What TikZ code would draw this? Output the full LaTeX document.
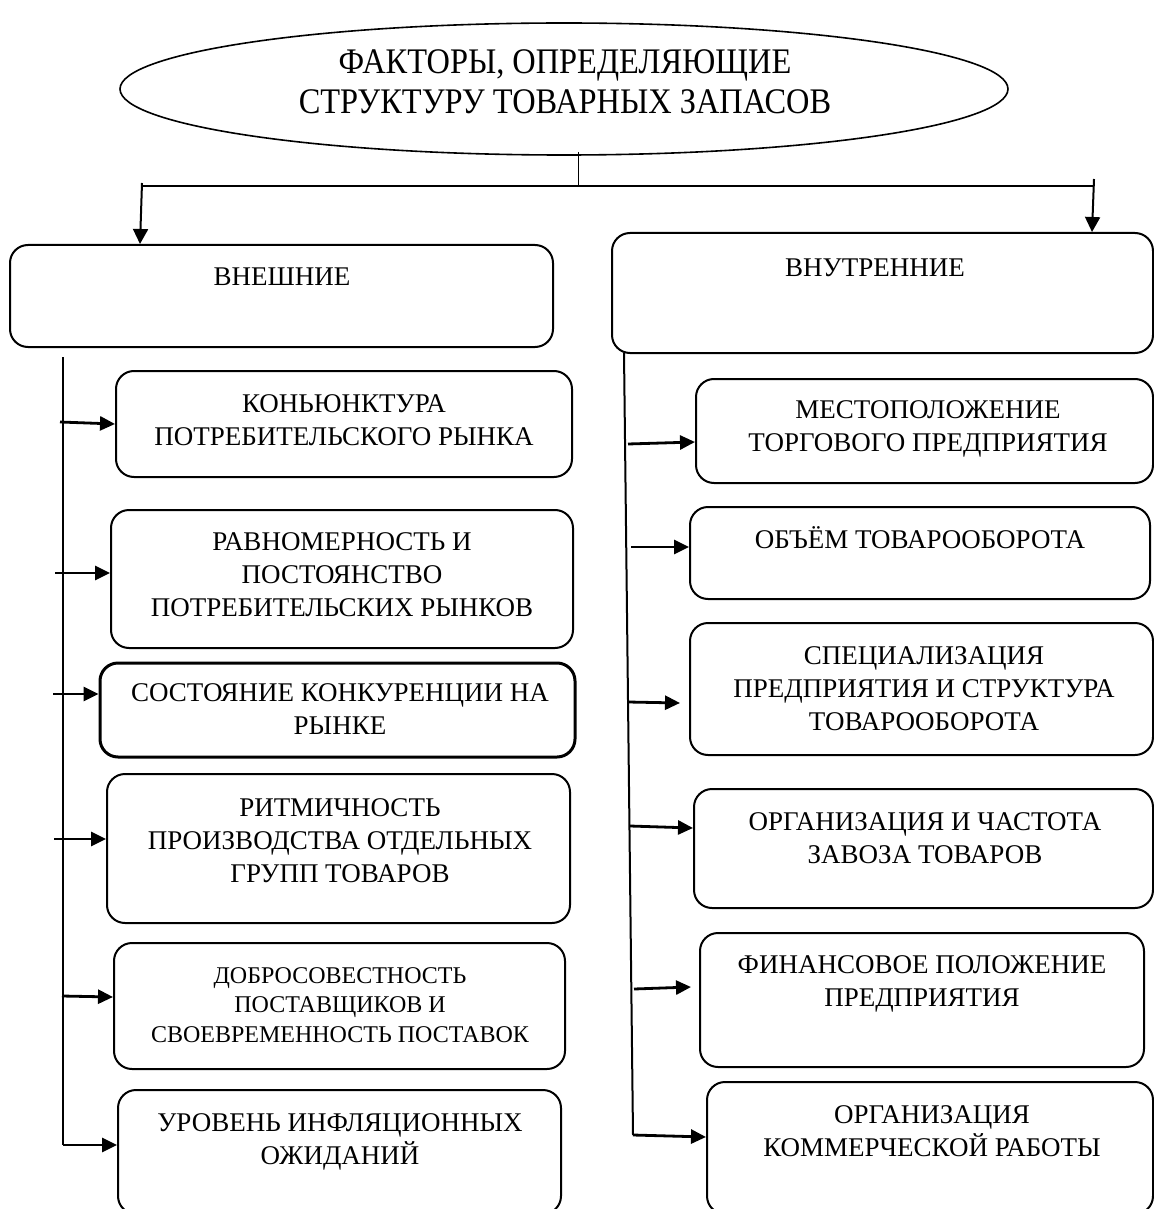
\documentclass[tikz,border=0pt]{standalone}
\usepackage{fontspec}
\setmainfont{Liberation Serif}
\newfontfamily\titlefont[FakeStretch=0.9]{Liberation Serif}
\usetikzlibrary{arrows.meta,shapes.geometric,fit}
\begin{document}
\begin{tikzpicture}[x=0.5pt,y=-0.5pt,
  box/.style={draw, rounded corners=9pt, line width=1pt, inner sep=0pt},
  lbl/.style={align=center, inner sep=0pt, font=\fontsize{13.5}{16.5}\selectfont},
  slbl/.style={align=center, inner sep=0pt, font=\fontsize{12}{14.75}\selectfont},
  arr/.style={line width=1.4pt, -{Triangle[length=7.5pt,width=7pt]}},
  downarr/.style={line width=1pt, -{Triangle[length=7.5pt,width=7.5pt]}},
  trunk/.style={line width=1pt}]
\useasboundingbox (0,0) rectangle (1154,1209);
\clip (0,0) rectangle (1154,1209);

% title
\node[draw, ellipse, line width=0.8pt, minimum width=444pt, minimum height=66pt, inner sep=0pt] (title) at (564,89) {};
\node[align=center, inner sep=0pt, font=\titlefont\fontsize{18}{20}\selectfont] (titletxt) at (565,82) {ФАКТОРЫ, ОПРЕДЕЛЯЮЩИЕ\\СТРУКТУРУ ТОВАРНЫХ ЗАПАСОВ};

% main group boxes
\node[box, fit={(10,245) (553,347)}] (ext) {};
\node[lbl] (exttxt) at (282,277) {ВНЕШНИЕ};
\node[box, fit={(612,233) (1153,353)}] (int) {};
\node[lbl] (inttxt) at (875,268) {ВНУТРЕННИЕ};

% top connectors
\coordinate (tb) at (578,152);
\coordinate (jn) at (578,186);
\coordinate (hl) at (142,186);
\coordinate (hr) at (1093,186);
\draw[line width=0.5pt] (tb) -- (jn);
\draw[line width=0.8pt] (hl) -- (hr);
\draw[downarr] (142,183) -- (ext.north -| 140,0);
\draw[downarr] (1094,179) -- (int.north -| 1092,0);

% left boxes
\node[box, fit={(116,371) (572,477)}] (l1) {};
\node[lbl] (l1t) at (344,420) {КОНЬЮНКТУРА\\ПОТРЕБИТЕЛЬСКОГО РЫНКА};
\node[box, fit={(111,510) (573,648)}] (l2) {};
\node[lbl] (l2t) at (342,575) {РАВНОМЕРНОСТЬ И\\ПОСТОЯНСТВО\\ПОТРЕБИТЕЛЬСКИХ РЫНКОВ};
\node[box, line width=1.5pt, fit={(100,663) (575,757)}] (l3) {};
\node[lbl] (l3t) at (340,709) {СОСТОЯНИЕ КОНКУРЕНЦИИ НА\\РЫНКЕ};
\node[box, fit={(107,774) (570,923)}] (l4) {};
\node[lbl] (l4t) at (340,841) {РИТМИЧНОСТЬ\\ПРОИЗВОДСТВА ОТДЕЛЬНЫХ\\ГРУПП ТОВАРОВ};
\node[box, fit={(114,943) (565,1069)}] (l5) {};
\node[slbl] (l5t) at (340,1005) {ДОБРОСОВЕСТНОСТЬ\\ПОСТАВЩИКОВ И\\СВОЕВРЕМЕННОСТЬ ПОСТАВОК};
\node[box, fit={(118,1090) (561,1214)}] (l6) {};
\node[lbl] (l6t) at (340,1142) {УРОВЕНЬ ИНФЛЯЦИОННЫХ\\ОЖИДАНИЙ};

% left trunk and arrows
\coordinate (lt0) at (63,357);
\coordinate (lt1) at (63,1145);
\draw[trunk] (lt0) -- (lt1);
\coordinate (s1) at (60,422);
\coordinate (s2) at (55,573);
\coordinate (s3) at (53,694);
\coordinate (s4) at (54,839);
\coordinate (s5) at (62,996);
\draw[arr] (s1) -- (l1.west |- 0,424);
\draw[arr] (s2) -- (l2.west |- s2);
\draw[arr] (s3) -- (l3.west |- s3);
\draw[arr] (s4) -- (l4.west |- s4);
\draw[arr] (s5) -- (l5.west |- 0,997);
\draw[arr] (lt1) -- (l6.west |- lt1);

% right boxes
\node[box, fit={(696,379) (1153,483)}] (r1) {};
\node[lbl] (r1t) at (928,429) {МЕСТОПОЛОЖЕНИЕ\\ТОРГОВОГО ПРЕДПРИЯТИЯ};
\node[box, fit={(690,507) (1150,599)}] (r2) {};
\node[lbl] (r2t) at (920,538) {ОБЪЁМ ТОВАРООБОРОТА};
\node[box, fit={(690,623) (1153,755)}] (r3) {};
\node[lbl] (r3t) at (924,689) {СПЕЦИАЛИЗАЦИЯ\\ПРЕДПРИЯТИЯ И СТРУКТУРА\\ТОВАРООБОРОТА};
\node[box, fit={(694,789) (1153,908)}] (r4) {};
\node[lbl] (r4t) at (925,838) {ОРГАНИЗАЦИЯ И ЧАСТОТА\\ЗАВОЗА ТОВАРОВ};
\node[box, fit={(700,933) (1144,1067)}] (r5) {};
\node[lbl] (r5t) at (922,984) {ФИНАНСОВОЕ ПОЛОЖЕНИЕ\\ПРЕДПРИЯТИЯ};
\node[box, fit={(707,1082) (1153,1214)}] (r6) {};
\node[lbl] (r6t) at (932,1131) {ОРГАНИЗАЦИЯ\\КОММЕРЧЕСКОЙ РАБОТЫ};

% right trunk and arrows
\coordinate (rt0) at (624,353);
\coordinate (rt1) at (633,1135);
\draw[trunk] (rt0) -- (rt1);
\coordinate (q1) at (628,444);
\coordinate (q2) at (631,547);
\coordinate (q3) at (628,702);
\coordinate (q4) at (630,826);
\coordinate (q5) at (634,989);
\draw[arr] (q1) -- (r1.west |- 0,442);
\draw[arr] (q2) -- (r2.west |- q2);
\draw[arr] (q3) -- (680,703);
\draw[arr] (q4) -- (r4.west |- 0,828);
\draw[arr] (q5) -- (691,987);
\draw[arr] (rt1) -- (r6.west |- 0,1137);
\end{tikzpicture}
\end{document}
